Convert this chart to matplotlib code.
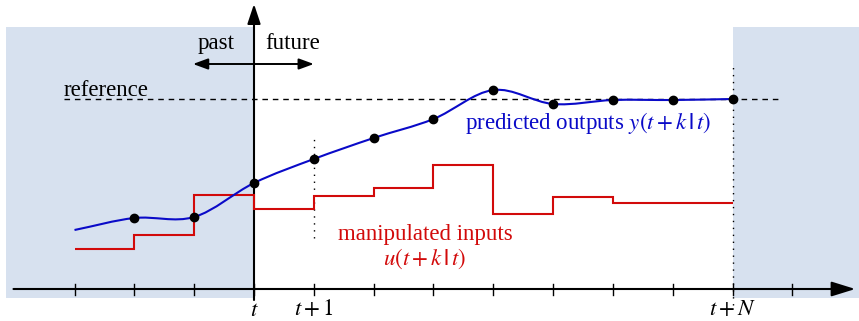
import numpy as np
import matplotlib
matplotlib.use('Agg')
import matplotlib.pyplot as plt
from matplotlib.path import Path
from matplotlib.patches import PathPatch, FancyArrowPatch

plt.rcParams['font.family'] = ['Liberation Serif', 'DejaVu Serif']
plt.rcParams['mathtext.fontset'] = 'stix'

# time steps relative to t (t = 0, horizon N = 8)
ticks = np.arange(-3, 10)
horizon = 8

# predicted / past outputs y(t+k|t)
out_k = [-3, -2, -1, 0, 1, 2, 3, 4, 5, 6, 7, 8]
out_y = [59, 71, 72, 106, 130, 151, 170, 199, 185, 189, 189, 190]
dot_k = out_k[1:]
dot_y = out_y[1:]

# manipulated inputs u(t+k|t), piecewise constant
in_edges = [-3, -2, -1, 0, 1, 2, 3, 4, 5, 6, 8]
in_u = [40, 54, 94, 80.5, 93, 101, 124, 75, 92, 86]

ref_level = 190

blue = '#0a0ac8'
red = '#d20a0a'
shade = '#d7e1ef'
fs = 16.5

fig = plt.figure(figsize=(8.59, 3.21), dpi=100)
ax = fig.add_axes([0, 0, 1, 1])
step = 59.83
ax.set_xlim(-254 / step, (859 - 254) / step)
ax.set_ylim(-32, 289)
ax.axis('off')

# shaded regions: past and beyond the horizon
ax.axvspan(-4.15, 0, ymin=(-9 + 32) / 321, ymax=(262 + 32) / 321, color=shade, lw=0, zorder=0)
ax.axvspan(horizon, 11, ymin=(-9 + 32) / 321, ymax=(262 + 32) / 321, color=shade, lw=0, zorder=0)

# axes with arrows
ax.add_patch(FancyArrowPatch((-4.02, 0), (10.05, 0), arrowstyle='-|>,head_length=1.45,head_width=0.45',
                             mutation_scale=10, lw=1.5, color='black', shrinkA=0, shrinkB=0, zorder=3))
ax.add_patch(FancyArrowPatch((0, -11), (0, 285), arrowstyle='-|>,head_length=1.2,head_width=0.4',
                             mutation_scale=10, lw=1.5, color='black', shrinkA=0, shrinkB=0, zorder=3))
for k in ticks:
    ax.plot([k, k], [-6, 5], color='black', lw=1, zorder=3)

# past / future arrow
ax.add_patch(FancyArrowPatch((-1.02, 225), (1.0, 225), arrowstyle='<|-|>,head_length=0.9,head_width=0.33',
                             mutation_scale=10, lw=1.4, color='black', shrinkA=0, shrinkB=0, zorder=3))
ax.text(-0.64, 240, 'past', fontsize=fs, ha='center', va='baseline')
ax.text(0.64, 240, 'future', fontsize=fs, ha='center', va='baseline')

# reference line
ax.plot([-3.18, 8.8], [ref_level, ref_level], color='black', lw=1, dashes=(4, 3.5), zorder=2)
ax.text(-3.18, 193, 'reference', fontsize=fs, ha='left', va='baseline')

# dotted markers at t+1 and t+N
ax.plot([1, 1], [51, 151], color='black', lw=1, ls=(0, (1, 4)), zorder=2)
ax.plot([horizon, horizon], [-16, 222], color='black', lw=1, ls=(0, (1, 4)), zorder=2)

# inputs
ax.stairs(in_u, in_edges, baseline=None, color=red, lw=1.5, zorder=4)

# outputs: smooth curve through the points (cubic Bezier pieces)
xs = np.array(out_k, dtype=float)
ys = np.array(out_y, dtype=float)
m = np.gradient(ys, xs)
verts = [(xs[0], ys[0])]
codes = [Path.MOVETO]
for i in range(len(xs) - 1):
    h = xs[i + 1] - xs[i]
    verts += [(xs[i] + h / 3, ys[i] + m[i] * h / 3),
              (xs[i + 1] - h / 3, ys[i + 1] - m[i + 1] * h / 3),
              (xs[i + 1], ys[i + 1])]
    codes += [Path.CURVE4] * 3
ax.add_patch(PathPatch(Path(verts, codes), fill=False, edgecolor=blue, lw=1.5, zorder=5))
ax.plot(dot_k, dot_y, 'o', color='black', ms=6, zorder=6)

ax.text(3.53, 160, r'predicted outputs $y(t+k\,\mathbf{|}\,t)$', fontsize=fs, color=blue,
        ha='left', va='baseline')
ax.text(2.86, 49, 'manipulated inputs', fontsize=fs, color=red, ha='center', va='baseline')
ax.text(2.86, 24, r'$u(t+k\,\mathbf{|}\,t)$', fontsize=fs, color=red, ha='center', va='baseline')

# time labels
ax.text(0, -31.5, r'$t$', fontsize=fs, ha='center', va='bottom')
ax.text(1, -31.5, r'$t+1$', fontsize=fs, ha='center', va='bottom')
ax.text(horizon, -31.5, r'$t+N$', fontsize=fs, ha='center', va='bottom')

fig.savefig('out.png', dpi=100)
